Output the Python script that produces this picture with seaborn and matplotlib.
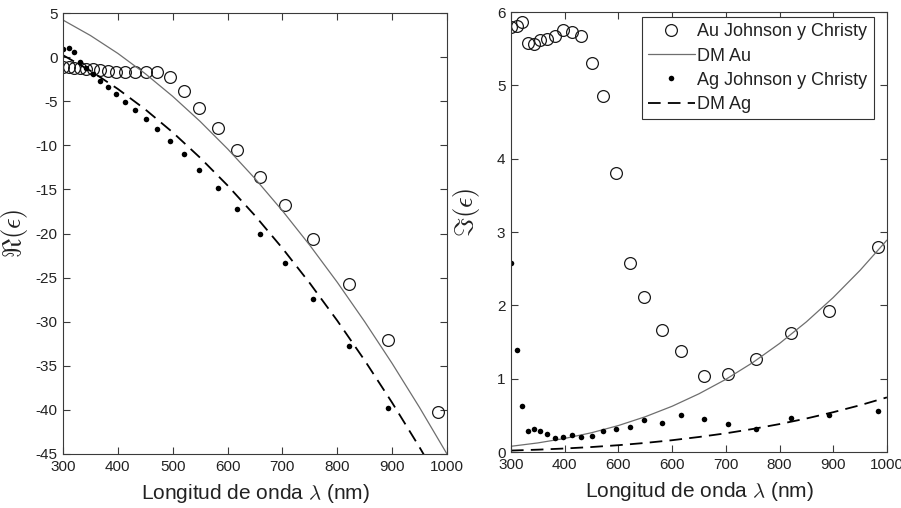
import matplotlib
matplotlib.use("Agg")
import matplotlib.pyplot as plt
import seaborn as sns
import pandas as pd

# ---------------- data ----------------
wl_jc = [300.9, 310.7, 320.4, 331.5, 342.5, 354.2, 367.9, 381.5, 397.4, 413.3,
         430.5, 450.9, 471.4, 495.9, 520.9, 548.6, 582.1, 616.8, 659.5, 704.5,
         756.0, 821.1, 892.0, 984.0]
au_re = [-1.16, -1.16, -1.20, -1.25, -1.30, -1.40, -1.50, -1.60, -1.65, -1.68,
         -1.68, -1.66, -1.67, -2.20, -3.85, -5.80, -8.05, -10.58, -13.60, -16.78,
         -20.60, -25.75, -32.05, -40.27]
au_im = [5.80, 5.81, 5.87, 5.58, 5.56, 5.62, 5.63, 5.67, 5.76, 5.73,
         5.67, 5.30, 4.86, 3.81, 2.58, 2.11, 1.66, 1.38, 1.03, 1.06,
         1.27, 1.62, 1.92, 2.79]
wl_ag_re = wl_jc[:23]
ag_re = [0.97, 1.00, 0.61, -0.58, -1.18, -1.90, -2.70, -3.40, -4.20, -5.12,
         -6.00, -7.00, -8.16, -9.49, -10.96, -12.78, -14.82, -17.20, -20.04, -23.37,
         -27.45, -32.78, -39.82]
ag_im = [2.58, 1.39, 0.63, 0.28, 0.32, 0.285, 0.24, 0.19, 0.21, 0.23,
         0.20, 0.22, 0.29, 0.31, 0.335, 0.435, 0.39, 0.50, 0.45, 0.385,
         0.31, 0.46, 0.50, 0.556]

wl_dm = [300, 350, 400, 450, 500, 550, 600, 650, 700, 750, 800, 850, 900, 950, 1000]
dm_au_re = [4.20, 2.45, 0.42, -1.88, -4.45, -7.29, -10.40, -13.77, -17.42, -21.34,
            -25.53, -30.00, -34.73, -39.73, -45.00]
dm_au_im = [0.078, 0.124, 0.185, 0.263, 0.361, 0.481, 0.624, 0.794, 0.991, 1.219,
            1.480, 1.775, 2.107, 2.478, 2.890]
dm_ag_re = [0.22, -1.55, -3.61, -5.93, -8.53, -11.41, -14.55, -17.97, -21.67, -25.64,
            -29.88, -34.39, -39.18, -44.24, -49.58]
dm_ag_im = [0.020, 0.032, 0.048, 0.068, 0.093, 0.124, 0.161, 0.205, 0.255, 0.314,
            0.381, 0.457, 0.543, 0.638, 0.745]

x_ticks = [300, 400, 500, 600, 700, 800, 900, 1000]
x_labels_left = ["300", "400", "500", "600", "700", "800", "900", "1000"]
x_labels_right = ["300", "400", "600", "600", "700", "800", "900", "1000"]
y_ticks_left = [-45, -40, -35, -30, -25, -20, -15, -10, -5, 0, 5]
y_ticks_right = [0, 1, 2, 3, 4, 5, 6]
legend_labels = ["Au Johnson y Christy", "DM Au", "Ag Johnson y Christy", "DM Ag"]
xlabel = r"Longitud de onda $\lambda$ (nm)"
ylabel_left = r"$\Re(\epsilon)$"
ylabel_right = r"$\Im(\epsilon)$"

# ---------------- style ----------------
sns.set_style("ticks")
plt.rcParams["font.family"] = ["Liberation Sans", "DejaVu Sans"]
plt.rcParams["mathtext.fontset"] = "cm"
plt.rcParams["axes.unicode_minus"] = False

fig = plt.figure(figsize=(9.01, 5.08), dpi=100)
axL = fig.add_axes([0.0699, 0.1063, 0.4262, 0.8681])
axR = fig.add_axes([0.5671, 0.1102, 0.4173, 0.8661])

spine_col = "#3a3a3a"
txt_col = "#222222"
dash = (0, (7, 4))

def style(ax):
    for s in ax.spines.values():
        s.set_color(spine_col)
        s.set_linewidth(0.8)
        s.set_visible(True)
    ax.tick_params(direction="in", top=True, right=True, length=5, width=0.8,
                   color=spine_col, labelsize=11, labelcolor=txt_col, pad=4)

def draw(ax, re_or_im):
    if re_or_im == "re":
        au_x, au_y, ag_x, ag_y = wl_jc, au_re, wl_ag_re, ag_re
        dau, dag = dm_au_re, dm_ag_re
    else:
        au_x, au_y, ag_x, ag_y = wl_jc, au_im, wl_jc, ag_im
        dau, dag = dm_au_im, dm_ag_im
    sns.lineplot(x=au_x, y=au_y, ax=ax, estimator=None, linestyle="none",
                 marker="o", markersize=8.5, markerfacecolor="none",
                 markeredgecolor="#1a1a1a", markeredgewidth=0.9, color="#1a1a1a",
                 label=legend_labels[0])
    sns.lineplot(x=wl_dm, y=dau, ax=ax, estimator=None, color="#6e6e6e",
                 linewidth=0.9, label=legend_labels[1])
    sns.lineplot(x=ag_x, y=ag_y, ax=ax, estimator=None, linestyle="none",
                 marker="o", markersize=4, markerfacecolor="black",
                 markeredgecolor="black", markeredgewidth=0, color="black",
                 label=legend_labels[2])
    sns.lineplot(x=wl_dm, y=dag, ax=ax, estimator=None, color="black",
                 linewidth=1.3, linestyle=dash, label=legend_labels[3])

draw(axL, "re")
draw(axR, "im")

# left axes
axL.set_xlim(300, 1000)
axL.set_ylim(-45, 5)
axL.set_xticks(x_ticks)
axL.set_xticklabels(x_labels_left)
axL.set_yticks(y_ticks_left)
axL.set_xlabel(xlabel, fontsize=15, color=txt_col, labelpad=6)
axL.set_ylabel(ylabel_left, fontsize=19, color=txt_col)
axL.yaxis.set_label_coords(-0.085, 0.5)
style(axL)
if axL.get_legend() is not None:
    axL.get_legend().remove()

# right axes
axR.set_xlim(300, 1000)
axR.set_ylim(0, 6)
axR.set_xticks(x_ticks)
axR.set_xticklabels(x_labels_right)
axR.set_yticks(y_ticks_right)
axR.set_xlabel(xlabel, fontsize=15, color=txt_col, labelpad=6)
axR.set_ylabel(ylabel_right, fontsize=19, color=txt_col)
axR.yaxis.set_label_coords(-0.078, 0.545)
style(axR)

handles, labels = axR.get_legend_handles_labels()
leg = axR.legend(handles[:4], labels[:4], loc="upper right",
                 bbox_to_anchor=(0.9654, 0.9886), fontsize=13, frameon=True,
                 fancybox=False, framealpha=1, edgecolor="#333333",
                 handlelength=2.6, handletextpad=0.15, labelspacing=0.4,
                 borderpad=0.35, borderaxespad=0.0)
leg.get_frame().set_linewidth(0.8)
for t in leg.get_texts():
    t.set_color(txt_col)

fig.savefig("out.png", dpi=100)
